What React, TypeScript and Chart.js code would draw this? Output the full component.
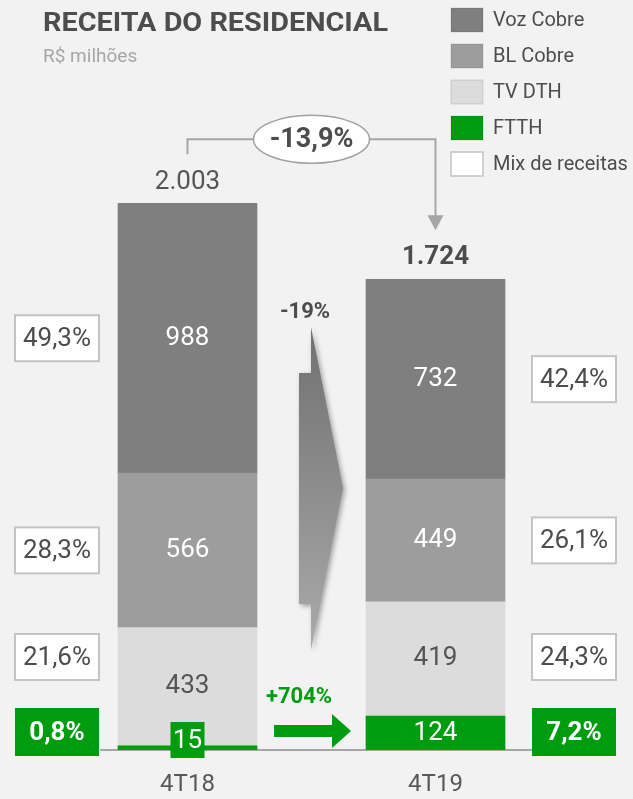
import React, { useEffect, useRef } from "react";
import { Chart, registerables } from "chart.js";

Chart.register(...registerables);

// ---------- data ----------
const categories = ["4T18", "4T19"];
const seriesNames = ["FTTH", "TV DTH", "BL Cobre", "Voz Cobre"];
const ftth = [15, 124];
const tvDth = [433, 419];
const blCobre = [566, 449];
const vozCobre = [988, 732];
const totals = [2003, 1724];
// revenue mix (%), order: FTTH, TV DTH, BL Cobre, Voz Cobre
const mix4T18 = [0.8, 21.6, 28.3, 49.3];
const mix4T19 = [7.2, 24.3, 26.1, 42.4];
const totalChange = "-13,9%";
const copperChange = "-19%";
const ftthChange = "+704%";
const mixLegendLabel = "Mix de receitas";
const title = "RECEITA DO RESIDENCIAL";
const subtitle = "R$ milhões";
const yMax = 2600;

// ---------- styles ----------
const BG = "#f2f2f2";
const GREEN = "#009c10";
const seriesColors = [GREEN, "#dcdcdc", "#9d9d9d", "#7f7f7f"];
const labelColors = ["#ffffff", "#555555", "#ffffff", "#ffffff"];
const DARK = "#4d4d4d";
const LINE = "#a6a6a6";
const FONT = "Roboto, 'DejaVu Sans', sans-serif";

const fmtThousands = (n: number) =>
  String(n).replace(/\B(?=(\d{3})+(?!\d))/g, ".");
const fmtPct = (n: number) => n.toFixed(1).replace(".", ",") + "%";

function text(
  ctx: CanvasRenderingContext2D,
  s: string,
  x: number,
  y: number,
  font: string,
  color: string,
  align: CanvasTextAlign = "center",
  baseline: CanvasTextBaseline = "middle"
) {
  ctx.save();
  ctx.font = font;
  ctx.fillStyle = color;
  ctx.textAlign = align;
  ctx.textBaseline = baseline;
  ctx.fillText(s, x, y);
  ctx.restore();
}

function box(
  ctx: CanvasRenderingContext2D,
  cx: number,
  cy: number,
  w: number,
  h: number,
  fill: string,
  stroke?: string
) {
  ctx.save();
  ctx.fillStyle = fill;
  ctx.fillRect(cx - w / 2, cy - h / 2, w, h);
  if (stroke) {
    ctx.strokeStyle = stroke;
    ctx.lineWidth = 2;
    ctx.strokeRect(cx - w / 2, cy - h / 2, w, h);
  }
  ctx.restore();
}

const overlay = {
  id: "overlay",
  beforeDraw(chart: any) {
    const ctx: CanvasRenderingContext2D = chart.ctx;
    ctx.save();
    ctx.fillStyle = BG;
    ctx.fillRect(0, 0, chart.width, chart.height);
    ctx.restore();
  },
  beforeDatasetsDraw(chart: any) {
    const ctx: CanvasRenderingContext2D = chart.ctx;
    const yS = chart.scales.y;
    const m0 = chart.getDatasetMeta(0).data;
    const b0 = m0[0].getProps(["x", "width"], true);
    const b1 = m0[1].getProps(["x", "width"], true);
    const base = yS.getPixelForValue(0);
    ctx.save();
    ctx.strokeStyle = LINE;
    ctx.lineWidth = 2;
    ctx.beginPath();
    ctx.moveTo(b0.x - b0.width / 2 - 18, base);
    ctx.lineTo(b1.x + b1.width / 2 + 27, base);
    ctx.stroke();
    ctx.restore();
  },
  afterDatasetsDraw(chart: any) {
    const ctx: CanvasRenderingContext2D = chart.ctx;
    const yS = chart.scales.y;
    const base = yS.getPixelForValue(0);
    const nDs = chart.data.datasets.length;
    const bars = categories.map((_, j) =>
      chart.getDatasetMeta(0).data[j].getProps(["x", "width"], true)
    );
    const tops = categories.map((_, j) =>
      chart.getDatasetMeta(nDs - 1).data[j].getProps(["y"], true).y
    );

    // segment labels
    for (let i = 0; i < nDs; i++) {
      const meta = chart.getDatasetMeta(i);
      meta.data.forEach((el: any, j: number) => {
        const p = el.getProps(["x", "y", "base"], true);
        const v = chart.data.datasets[i].data[j];
        const h = Math.abs(p.base - p.y);
        if (h < 30) {
          const cy = base - 10;
          box(ctx, p.x, cy, 34, 36, GREEN);
          text(ctx, String(v), p.x, cy + 1, `26px ${FONT}`, "#ffffff");
        } else {
          text(ctx, String(v), p.x, (p.y + p.base) / 2, `26px ${FONT}`, labelColors[i]);
        }
      });
    }

    // mix boxes
    const mixes = [mix4T18, mix4T19];
    categories.forEach((_, j) => {
      const bx =
        j === 0 ? bars[0].x - bars[0].width / 2 - 61 : bars[1].x + bars[1].width / 2 + 69;
      const boxH = 46;
      const ftthCy = base - 18;
      for (let i = 0; i < nDs; i++) {
        const p = chart.getDatasetMeta(i).data[j].getProps(["y", "base"], true);
        let cy = (p.y + p.base) / 2;
        const pct = fmtPct(mixes[j][i]);
        if (i === 0) {
          cy = ftthCy;
          box(ctx, bx, cy, 84, 48, GREEN);
          text(ctx, pct, bx, cy + 1, `bold 26px ${FONT}`, "#ffffff");
          continue;
        }
        if (i === 1) cy = Math.min(cy, ftthCy - 24 - 28 - boxH / 2);
        box(ctx, bx, cy, 84, boxH, "#ffffff", "#c4c4c4");
        text(ctx, pct, bx, cy + 1, `26px ${FONT}`, DARK);
      }
    });

    // totals
    text(ctx, fmtThousands(totals[0]), bars[0].x, tops[0] - 21, `26px ${FONT}`, "#555555");
    text(ctx, fmtThousands(totals[1]), bars[1].x, tops[1] - 22, `bold 26px ${FONT}`, DARK);

    // connector with ellipse
    const cTop = tops[0] - 64;
    ctx.save();
    ctx.strokeStyle = LINE;
    ctx.lineWidth = 2;
    ctx.beginPath();
    ctx.moveTo(bars[0].x, tops[0] - 49);
    ctx.lineTo(bars[0].x, cTop);
    ctx.lineTo(bars[1].x, cTop);
    ctx.lineTo(bars[1].x, tops[1] - 62);
    ctx.stroke();
    ctx.fillStyle = LINE;
    ctx.beginPath();
    ctx.moveTo(bars[1].x - 8, tops[1] - 64);
    ctx.lineTo(bars[1].x + 8, tops[1] - 64);
    ctx.lineTo(bars[1].x, tops[1] - 49);
    ctx.closePath();
    ctx.fill();
    const ex = (bars[0].x + bars[1].x) / 2;
    ctx.beginPath();
    ctx.ellipse(ex, cTop, 58, 24, 0, 0, Math.PI * 2);
    ctx.fillStyle = "#ffffff";
    ctx.fill();
    ctx.lineWidth = 1.5;
    ctx.strokeStyle = "#a0a0a0";
    ctx.stroke();
    ctx.restore();
    text(ctx, totalChange, ex, cTop + 1, `bold 27px ${FONT}`, DARK);

    // big grey arrow between bars
    const midX = (bars[0].x + bars[0].width / 2 + bars[1].x - bars[1].width / 2) / 2;
    const sp = midX - 0.5;
    ctx.save();
    const grad = ctx.createLinearGradient(0, 327, 0, 650);
    grad.addColorStop(0, "#707070");
    grad.addColorStop(1, "#aaaaaa");
    ctx.fillStyle = grad;
    ctx.shadowColor = "rgba(0,0,0,0.35)";
    ctx.shadowBlur = 5;
    ctx.shadowOffsetX = 2;
    ctx.shadowOffsetY = 2;
    ctx.beginPath();
    ctx.moveTo(sp, 327);
    ctx.lineTo(sp + 32, 488);
    ctx.lineTo(sp, 650);
    ctx.lineTo(sp, 604);
    ctx.lineTo(sp - 12, 604);
    ctx.lineTo(sp - 12, 373);
    ctx.lineTo(sp, 373);
    ctx.closePath();
    ctx.fill();
    ctx.restore();
    text(ctx, copperChange, sp - 6, 312, `bold 22px ${FONT}`, DARK);

    // green arrow
    text(ctx, ftthChange, sp - 12, 697, `bold 22px ${FONT}`, GREEN);
    ctx.save();
    ctx.fillStyle = GREEN;
    ctx.fillRect(sp - 37, 725, 59, 12);
    ctx.beginPath();
    ctx.moveTo(sp + 21, 714);
    ctx.lineTo(sp + 40, 731);
    ctx.lineTo(sp + 21, 748);
    ctx.closePath();
    ctx.fill();
    ctx.restore();

    // category labels
    categories.forEach((c, j) =>
      text(ctx, c, bars[j].x, base + 35, `24px ${FONT}`, "#595959")
    );

    // title
    ctx.save();
    ctx.font = `bold 25px ${FONT}`;
    const tw = ctx.measureText(title).width;
    ctx.translate(43, 31);
    ctx.scale(345 / tw, 1);
    ctx.fillStyle = DARK;
    ctx.textBaseline = "alphabetic";
    ctx.textAlign = "left";
    ctx.fillText(title, 0, 0);
    ctx.restore();
    text(ctx, subtitle, 43, 62, `19px ${FONT}`, "#a6a6a6", "left", "alphabetic");

    // legend
    const items = [
      ...seriesNames.map((n, i) => ({ n, c: seriesColors[i] })).reverse(),
      { n: mixLegendLabel, c: "#ffffff" },
    ];
    items.forEach((it, k) => {
      const y = 8 + k * 36;
      ctx.save();
      ctx.fillStyle = it.c;
      ctx.fillRect(451, y, 32, 24);
      ctx.strokeStyle = it.c === "#ffffff" ? "#c4c4c4" : "rgba(0,0,0,0.08)";
      ctx.lineWidth = 1.5;
      ctx.strokeRect(451, y, 32, 24);
      ctx.restore();
      text(ctx, it.n, 493, y + 13, `20px ${FONT}`, DARK, "left");
    });
  },
};

export default function App() {
  const ref = useRef<HTMLCanvasElement>(null);
  useEffect(() => {
    if (!ref.current) return;
    const values = [ftth, tvDth, blCobre, vozCobre];
    const chart = new Chart(ref.current, {
      type: "bar",
      data: {
        labels: categories,
        datasets: values.map((d, i) => ({
          label: seriesNames[i],
          data: d,
          backgroundColor: seriesColors[i],
          borderWidth: 0,
          barThickness: 139,
        })),
      },
      options: {
        animation: false,
        responsive: false,
        devicePixelRatio: 1,
        layout: { padding: { left: 63.5, right: 73.5, top: 40, bottom: 49 } },
        plugins: { legend: { display: false }, tooltip: { enabled: false } },
        scales: {
          x: { stacked: true, display: false, grid: { display: false } },
          y: { stacked: true, display: false, min: 0, max: yMax, grid: { display: false } },
        },
      },
      plugins: [overlay],
    });
    return () => chart.destroy();
  }, []);
  return (
    <div style={{ position: "fixed", left: 0, top: 0, width: 633, height: 799, background: BG }}>
      <canvas ref={ref} width={633} height={799} style={{ display: "block", width: 633, height: 799 }} />
    </div>
  );
}
